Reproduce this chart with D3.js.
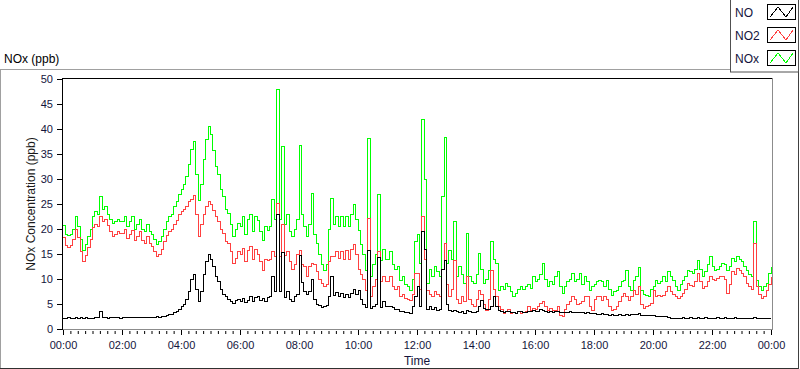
<!DOCTYPE html>
<html>
<head>
<meta charset="utf-8">
<script src="https://cdn.jsdelivr.net/npm/d3@7"></script>
<style>
  body { margin: 0; background: #fff; }
  svg { display: block; font-family: "Liberation Sans", Arial, sans-serif; }
</style>
</head>
<body>
<svg id="chart" width="800" height="369"></svg>
<script>
// ---- data (one reading every 5 minutes, 00:00 -> 24:00) ----
const seriesNames = ["NO", "NO2", "NOx"];
const seriesColors = ["#000000", "#ff4040", "#00ff00"];
const stepMinutes = 5;
const yTicks = [0, 5, 10, 15, 20, 25, 30, 35, 40, 45, 50];
const xTickHours = [0, 2, 4, 6, 8, 10, 12, 14, 16, 18, 20, 22, 24];

const NO = [
  2.2, 2.2, 2.3, 2.2, 2.2, 2.3, 2.2, 2.3, 2.2, 2.3, 2.2, 2.2,
  2.2, 2.4, 2.4, 3.5, 2.4, 2.4, 2.2, 2.3, 2.4, 2.3, 2.3, 2.2,
  2.3, 2.4, 2.3, 2.3, 2.3, 2.3, 2.3, 2.4, 2.3, 2.3, 2.3, 2.3,
  2.4, 2.4, 2.5, 2.4, 2.5, 2.6, 2.8, 3.0, 3.0, 3.3, 3.6, 4.0,
  4.5, 5.0, 6.0, 7.5, 10.0, 11.0, 8.0, 5.5, 7.5, 11.0, 13.5, 15.0,
  14.0, 12.5, 10.5, 9.5, 8.0, 7.0, 6.5, 6.0, 5.5, 5.2, 5.8, 6.0,
  5.5, 6.2, 5.3, 5.8, 6.5, 5.6, 6.4, 6.5, 5.8, 6.2, 5.6, 6.3,
  6.5, 10.5, 7.5, 23.0, 7.5, 15.3, 6.3, 7.5, 6.0, 5.5, 6.5, 7.0,
  14.7, 9.3, 7.5, 7.0, 7.5, 10.0, 6.0, 5.0, 4.8, 4.3, 4.5, 4.8,
  6.5, 10.5, 6.8, 7.4, 6.5, 7.2, 6.3, 7.0, 6.4, 7.2, 7.9, 7.0,
  7.8, 6.0, 5.0, 4.3, 15.7, 4.1, 4.5, 5.0, 14.4, 4.3, 5.5, 4.5,
  4.5, 4.5, 4.3, 4.0, 4.0, 3.5, 3.5, 3.3, 3.3, 3.2, 4.5, 6.5,
  8.5, 4.5, 19.5, 16.0, 4.0, 4.5, 4.0, 4.3, 3.8, 4.0, 12.0, 13.8,
  5.0, 3.8, 3.6, 3.8, 3.5, 3.3, 3.5, 3.1, 3.8, 3.5, 3.3, 3.4,
  3.5, 4.5, 5.8, 4.2, 4.0, 4.0, 4.5, 6.5, 4.5, 3.8, 3.5, 3.3,
  3.5, 3.5, 3.3, 3.4, 3.2, 3.5, 3.6, 3.4, 3.4, 3.6, 3.5, 3.7,
  3.5, 3.6, 4.0, 3.8, 3.5, 3.4, 3.5, 3.4, 3.5, 3.5, 3.4, 3.4,
  3.4, 3.4, 3.5, 3.3, 3.4, 3.3, 3.3, 3.3, 3.2, 3.3, 3.2, 3.2,
  3.1, 3.0, 3.0, 3.1, 2.9, 2.9, 2.8, 2.9, 2.8, 2.8, 2.9, 2.8,
  2.8, 2.9, 2.8, 2.9, 2.9, 3.0, 3.1, 2.8, 2.8, 2.7, 2.7, 2.7,
  2.7, 2.6, 2.6, 2.6, 2.6, 2.5, 2.4, 2.2, 2.2, 2.1, 2.2, 2.2,
  2.3, 2.2, 2.2, 2.3, 2.2, 2.2, 2.3, 2.2, 2.2, 2.3, 2.2, 2.2,
  2.2, 2.2, 2.3, 2.2, 2.2, 2.3, 2.2, 2.2, 2.2, 2.3, 2.2, 2.2,
  2.2, 2.2, 2.2, 2.2, 2.2, 2.4, 2.2, 2.2, 2.2, 2.2, 2.2, 2.2, 2.2
];

const NO2 = [
  18.3, 16.8, 16.3, 16.8, 18.0, 20.0, 18.3, 15.5, 13.6, 14.8, 16.3, 18.0,
  20.3, 21.0, 20.5, 22.5, 21.5, 22.0, 20.8, 19.5, 18.5, 19.0, 19.5, 19.2,
  19.2, 20.0, 18.2, 19.0, 19.8, 17.8, 18.6, 19.5, 17.8, 17.2, 18.5, 17.2,
  16.5, 15.5, 14.5, 15.0, 16.0, 17.5, 18.8, 19.5, 20.0, 21.0, 21.8, 23.0,
  23.5, 24.0, 24.5, 25.5, 26.0, 26.8, 23.0, 18.5, 21.0, 23.0, 24.5, 25.5,
  25.0, 23.8, 22.5, 21.5, 20.0, 19.1, 17.5, 17.1, 15.5, 13.1, 14.2, 15.5,
  15.0, 16.2, 13.5, 15.8, 16.5, 14.0, 16.0, 15.0, 13.5, 11.8, 14.0, 13.8,
  14.0, 15.5, 14.5, 25.1, 14.5, 21.0, 14.7, 15.5, 13.5, 12.0, 13.0, 15.0,
  15.7, 13.0, 12.5, 10.5, 12.5, 13.1, 13.0, 11.5, 10.0, 9.1, 8.5, 9.0,
  13.5, 14.5, 14.5, 15.5, 14.2, 15.5, 14.0, 15.8, 14.0, 16.0, 17.0, 15.0,
  12.0, 11.0, 10.0, 7.8, 22.2, 6.5, 8.5, 10.0, 15.5, 9.5, 10.5, 9.5,
  9.5, 10.5, 8.5, 8.0, 8.5, 6.5, 7.0, 6.2, 6.0, 5.8, 7.0, 11.1,
  11.1, 8.0, 22.5, 14.0, 7.8, 7.0, 6.5, 7.5, 7.0, 6.5, 12.0, 17.1,
  9.0, 6.5, 8.0, 13.8, 6.0, 5.1, 6.5, 5.5, 10.5, 6.0, 5.0, 4.5,
  6.0, 7.8, 7.0, 5.0, 3.8, 6.0, 11.8, 8.0, 6.5, 4.5, 4.0, 3.1,
  3.5, 4.0, 3.1, 3.3, 3.1, 3.5, 3.1, 3.3, 3.6, 4.5, 3.8, 4.2,
  4.0, 4.5, 5.1, 5.5, 4.5, 3.8, 4.2, 3.8, 3.8, 4.5, 2.8, 2.5,
  4.0, 5.0, 5.5, 6.5, 6.0, 5.0, 5.1, 5.5, 6.5, 6.5, 4.5, 3.8,
  6.0, 6.5, 6.5, 5.8, 6.5, 6.0, 4.5, 3.8, 4.0, 4.5, 5.5, 6.5,
  7.1, 6.5, 5.8, 6.5, 7.8, 7.0, 8.5, 5.0, 4.1, 4.5, 4.8, 5.1,
  7.8, 6.5, 6.8, 6.5, 6.8, 7.5, 8.5, 7.5, 7.0, 6.5, 6.1, 6.5,
  7.1, 8.0, 9.1, 8.8, 8.5, 9.5, 11.1, 9.5, 8.1, 8.5, 9.5, 10.5,
  10.0, 9.8, 10.2, 10.5, 10.5, 10.0, 7.1, 9.0, 11.5, 11.0, 12.1, 11.8,
  11.1, 10.5, 9.1, 8.5, 8.0, 17.1, 8.5, 7.0, 6.1, 6.5, 7.8, 9.0, 10.5
];

const NOx = [
  20.8, 19.0, 18.7, 19.0, 20.0, 22.6, 20.5, 18.0, 15.8, 17.0, 18.5, 20.0,
  22.5, 23.5, 23.0, 26.6, 24.0, 24.5, 23.0, 22.0, 21.1, 21.5, 22.0, 21.5,
  21.5, 22.5, 20.5, 21.5, 22.5, 20.0, 21.0, 22.0, 20.0, 19.5, 21.0, 19.5,
  19.0, 18.0, 17.0, 17.5, 18.5, 20.0, 21.5, 22.5, 23.0, 24.5, 25.5, 27.0,
  28.0, 29.0, 30.5, 33.0, 36.0, 37.5, 31.0, 25.8, 29.0, 34.0, 38.0, 40.5,
  39.0, 35.8, 32.5, 31.0, 28.0, 26.5, 24.0, 23.1, 21.0, 18.5, 20.0, 21.1,
  20.5, 22.5, 19.0, 22.0, 23.0, 19.5, 22.5, 21.8, 19.5, 17.8, 20.5, 19.8,
  20.5, 26.0, 22.0, 47.9, 22.0, 36.5, 21.0, 23.0, 19.5, 18.5, 20.0, 22.0,
  36.8, 23.0, 20.5, 18.5, 21.0, 27.1, 19.0, 17.1, 15.0, 13.0, 11.8, 13.0,
  20.0, 26.1, 21.0, 22.5, 20.5, 22.5, 20.5, 22.5, 20.5, 23.0, 24.9, 22.0,
  19.8, 17.0, 15.0, 11.8, 38.1, 10.6, 13.0, 15.0, 26.9, 13.8, 16.0, 14.0,
  14.0, 15.5, 13.0, 12.0, 12.5, 9.8, 10.5, 9.0, 8.5, 7.8, 10.0, 17.5,
  19.0, 13.1, 41.9, 30.0, 9.1, 12.0, 10.5, 12.5, 11.5, 10.5, 26.5, 38.3,
  13.1, 15.8, 14.0, 21.5, 10.5, 12.5, 11.0, 9.1, 19.1, 10.5, 9.5, 9.1,
  11.0, 15.1, 12.0, 9.1, 10.0, 11.8, 17.5, 14.0, 13.1, 7.8, 8.5, 8.0,
  9.1, 8.5, 7.5, 6.5, 7.2, 8.0, 8.5, 8.0, 8.5, 9.0, 8.2, 10.5,
  9.5, 10.0, 11.0, 13.1, 10.0, 8.5, 9.5, 9.0, 10.5, 11.5, 8.5, 7.1,
  8.5, 9.5, 10.0, 11.1, 9.5, 10.0, 11.1, 9.0, 10.5, 9.5, 7.8, 8.5,
  9.0, 9.5, 9.8, 9.5, 8.5, 9.8, 8.0, 6.8, 7.5, 7.8, 8.5, 9.5,
  9.8, 11.8, 8.5, 7.8, 9.8, 10.5, 12.3, 7.8, 7.0, 6.8, 6.5, 8.0,
  8.5, 9.8, 9.1, 9.5, 10.5, 9.5, 11.5, 10.5, 9.8, 8.5, 7.8, 9.0,
  9.8, 10.5, 11.8, 11.5, 11.1, 12.0, 13.8, 12.0, 10.5, 11.5, 13.0, 14.6,
  12.5, 11.8, 12.0, 12.5, 13.1, 13.0, 11.8, 12.5, 14.1, 13.5, 14.5, 14.0,
  13.5, 12.5, 11.8, 11.0, 10.5, 21.5, 9.8, 8.5, 7.8, 8.5, 9.1, 11.1, 12.5
];

// ---- layout ----
const svg = d3.select("#chart");
const textColor = "#14143c";
const t0 = new Date(2000, 0, 1, 0, 0);
const t1 = new Date(2000, 0, 2, 0, 0);

const x = d3.scaleTime().domain([t0, t1]).range([63, 771]);
const y = d3.scaleLinear().domain([0, 50]).range([329, 79]);

// panel outline (sunken look)
svg.append("line").attr("x1", 0).attr("x2", 730).attr("y1", 69.5).attr("y2", 69.5)
  .attr("stroke", "#a0a0a0");
svg.append("line").attr("x1", 0.5).attr("x2", 0.5).attr("y1", 69).attr("y2", 368)
  .attr("stroke", "#a0a0a0");
svg.append("line").attr("x1", 0).attr("x2", 799).attr("y1", 368.5).attr("y2", 368.5)
  .attr("stroke", "#303030");
svg.append("line").attr("x1", 798.5).attr("x2", 798.5).attr("y1", 72).attr("y2", 369)
  .attr("stroke", "#404040");

svg.append("text").attr("x", 4).attr("y", 63)
  .attr("font-size", 12).attr("fill", "#000").text("NOx (ppb)");

// plot background
svg.append("rect").attr("x", 62).attr("y", 78).attr("width", 710).attr("height", 251)
  .attr("fill", "#fff");

// series (NOx first so NO2 and NO sit on top); step curve mimics the dense sampling
const times = NO.map((d, i) => new Date(2000, 0, 1, 0, i * stepMinutes));
const seriesData = [NO, NO2, NOx];
const line = d3.line()
  .curve(d3.curveStepAfter)
  .x((d, i) => x(times[i]))
  .y(d => y(d));

const plot = svg.append("g");
[2, 1, 0].forEach(k => {
  plot.append("path")
    .datum(seriesData[k])
    .attr("fill", "none")
    .attr("stroke", seriesColors[k])
    .attr("stroke-width", 1)
    .attr("shape-rendering", "crispEdges")
    .attr("d", line);
});

// frame
svg.append("line").attr("x1", 62).attr("x2", 773).attr("y1", 78.5).attr("y2", 78.5)
  .attr("stroke", "#000");
svg.append("line").attr("x1", 62.5).attr("x2", 62.5).attr("y1", 78).attr("y2", 330)
  .attr("stroke", "#000");
svg.append("line").attr("x1", 772.5).attr("x2", 772.5).attr("y1", 78).attr("y2", 330)
  .attr("stroke", "#8c8c8c");
svg.append("line").attr("x1", 63).attr("x2", 773).attr("y1", 329.5).attr("y2", 329.5)
  .attr("stroke", "#8c8c8c");

// y axis
const yAxis = svg.append("g").attr("transform", "translate(62,0)")
  .call(d3.axisLeft(y).tickValues(yTicks).tickSize(5).tickPadding(4));
yAxis.select(".domain").remove();
yAxis.selectAll("line").attr("stroke", "#000");
yAxis.selectAll("text").attr("font-size", 11).attr("fill", textColor)
  .attr("font-family", "Liberation Sans, Arial, sans-serif");

// x axis: minor ticks every 15 min, labelled ticks every 2 h
const xMinor = svg.append("g").attr("transform", "translate(0,330)")
  .call(d3.axisBottom(x).ticks(d3.timeMinute.every(15)).tickSize(3).tickFormat(""));
xMinor.select(".domain").remove();
xMinor.selectAll("line").attr("stroke", "#000").attr("transform", "translate(0,1)");

const xAxis = svg.append("g").attr("transform", "translate(0,330)")
  .call(d3.axisBottom(x)
    .tickValues(xTickHours.map(h => new Date(2000, 0, 1, h, 0)))
    .tickFormat(d3.timeFormat("%H:%M"))
    .tickSize(5).tickPadding(6));
xAxis.select(".domain").remove();
xAxis.selectAll("line").attr("stroke", "#000");
xAxis.selectAll("text").attr("font-size", 11).attr("fill", textColor)
  .attr("font-family", "Liberation Sans, Arial, sans-serif");

// axis titles
svg.append("text")
  .attr("transform", "translate(35,204) rotate(-90)")
  .attr("text-anchor", "middle")
  .attr("font-size", 12).attr("fill", "#1a1a1a")
  .text("NOx Concentration (ppb)");

svg.append("text")
  .attr("x", 417).attr("y", 365)
  .attr("text-anchor", "middle")
  .attr("font-size", 12).attr("fill", textColor)
  .text("Time");

// legend
const legend = svg.append("g");
legend.append("rect").attr("x", 730.5).attr("y", -1).attr("width", 68).attr("height", 73)
  .attr("fill", "#fff").attr("stroke", "#505050");

const legendRows = legend.selectAll("g.row")
  .data(seriesNames)
  .enter().append("g")
    .attr("class", "row")
    .attr("transform", (d, i) => "translate(0," + (i * 23) + ")");

legendRows.append("text")
  .attr("x", 735).attr("y", 17)
  .attr("font-size", 12).attr("fill", textColor)
  .text(d => d);

legendRows.append("rect")
  .attr("x", 767.5).attr("y", 4.5).attr("width", 28).attr("height", 15)
  .attr("fill", "#fff").attr("stroke", "#000");

legendRows.append("path")
  .attr("d", "M770,17L778,7L786,17L793,7")
  .attr("fill", "none")
  .attr("stroke", (d, i) => seriesColors[i])
  .attr("shape-rendering", "crispEdges");
</script>
</body>
</html>
